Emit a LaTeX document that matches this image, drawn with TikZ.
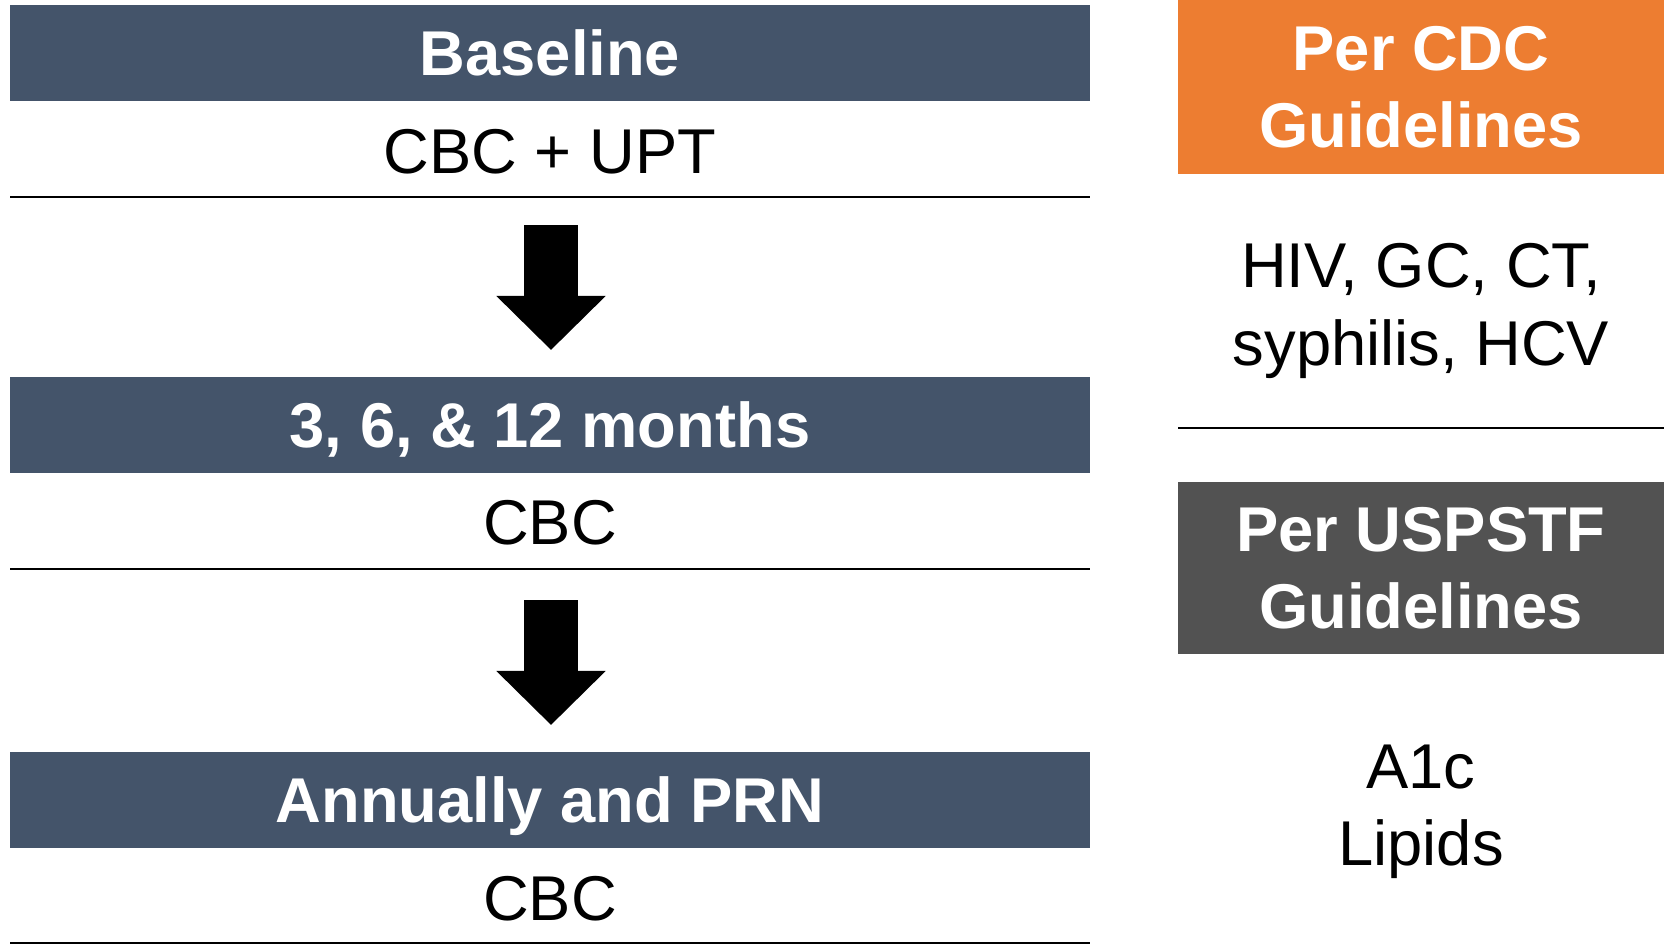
\documentclass[tikz,border=0pt]{standalone}
\usepackage{fontspec}
\setmainfont{Liberation Sans}
\usetikzlibrary{arrows.meta}
\definecolor{barblue}{HTML}{44546A}
\definecolor{cdcorange}{HTML}{ED7D31}
\definecolor{taskgray}{HTML}{525252}
\newcommand\slidesize{\fontsize{18}{22}\selectfont}
\tikzset{
bar/.style={fill=barblue,text=white,font=\slidesize\bfseries,minimum width=10.79cm,minimum height=0.96cm,inner sep=0pt,text height=12.9pt,text depth=0pt},
item/.style={font=\slidesize,inner sep=0pt,text height=12.9pt,text depth=0pt},
guide/.style={text=white,font=\slidesize\bfseries,minimum width=4.86cm,inner sep=0pt,align=center},
note/.style={font=\slidesize,inner sep=0pt,align=center,anchor=north},
rule/.style={line width=0.6pt},
blockarrow/.style={line width=0.53cm,-{Triangle[length=0.54cm,width=1.06cm]}}
}
\begin{document}
\begin{tikzpicture}[x=0.01cm,y=-0.01cm]
\useasboundingbox(0,0)rectangle(1671,945);
% left column
\node[bar](base)at(550,53){Baseline};
\node[item](base test)at(550,151){CBC + UPT};
\draw[rule](10,197)--(1090,197);
\node[bar](months)at(550,425){3, 6, \& 12 months};
\node[item](months test)at(550,522){CBC};
\draw[rule](10,569)--(1090,569);
\node[bar](annual)at(550,800){Annually and PRN};
\node[item](annual test)at(550,898){CBC};
\draw[rule](10,943)--(1090,943);
\coordinate(a1top)at(551,225);\coordinate(a1tip)at(551,350);
\coordinate(a2top)at(551,600);\coordinate(a2tip)at(551,725);
\draw[blockarrow](a1top)--(a1tip);
\draw[blockarrow](a2top)--(a2tip);
% right column
\node[guide,fill=cdcorange,minimum height=1.74cm](cdc)at(1421,87){Per CDC\\Guidelines};
\node[note](cdc tests)at(1421,243){HIV, GC, CT,\\syphilis, HCV};
\draw[rule](1178,428)--(1664,428);
\node[guide,fill=taskgray,minimum height=1.71cm](uspstf)at(1421,568){Per USPSTF\\Guidelines};
\node[note](uspstf tests)at(1421,744){A1c\\Lipids};
\end{tikzpicture}
\end{document}
